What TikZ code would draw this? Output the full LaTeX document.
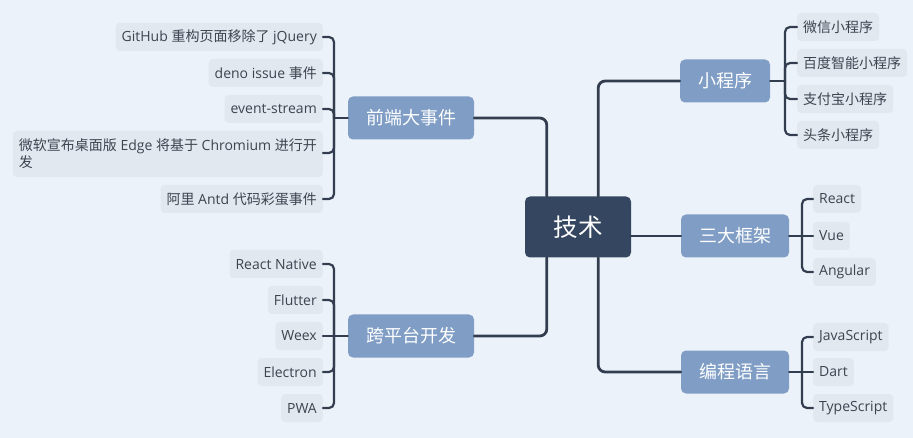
\documentclass[tikz,border=0pt]{standalone}
\usepackage{fontspec}
\setmainfont{Open Sans}
\newfontfamily\cjk{Noto Sans CJK SC}
\usetikzlibrary{positioning}
\definecolor{bgc}{RGB}{236,242,249}
\definecolor{leafc}{RGB}{225,232,240}
\definecolor{branchc}{RGB}{127,157,197}
\definecolor{rootc}{RGB}{52,70,96}
\definecolor{linec}{RGB}{50,62,80}
\definecolor{textc}{RGB}{60,68,80}

\begin{document}
\begin{tikzpicture}[x=1pt,y=-1pt,line cap=round,line join=round,
  leaf/.style={fill=leafc,rounded corners=4pt,minimum height=28pt,inner xsep=6pt,inner ysep=2pt,text=textc,font=\fontsize{14}{17}\selectfont},
  branch/.style={fill=branchc,rounded corners=5pt,minimum height=43pt,inner xsep=18pt,text=white,font=\cjk\fontsize{18}{20}\selectfont},
  root/.style={fill=rootc,rounded corners=5pt,minimum width=106pt,minimum height=61pt,text=white,font=\cjk\fontsize{24.5}{26}\selectfont},
  link/.style={draw=linec,line width=2.8pt,rounded corners=7pt},
  twig/.style={draw=linec,line width=2.2pt,rounded corners=5pt}]
\fill[bgc] (0,0) rectangle (913,438);
\useasboundingbox (0,0) rectangle (913,438);
% root and main branches
\node[root] (tech) at (578,227) {技术};
\node[branch] (fe) at (411,118) {前端大事件};
\node[branch] (mp) at (725,81) {小程序};
\node[branch] (fw) at (735,236) {三大框架};
\node[branch] (lang) at (735,372) {编程语言};
\node[branch] (xp) at (411,336) {跨平台开发};
\draw[link] ([xshift=22pt]tech.north west) |- (fe.east);
\draw[link] ([xshift=-33pt]tech.north east) |- (mp.west);
\draw[link] (tech.east |- fw.west) -- (fw.west);
\draw[link] ([xshift=-33pt]tech.south east) |- (lang.west);
\draw[link] ([xshift=22pt]tech.south west) |- (xp.east);
% front-end events
\node[leaf,anchor=east] (fe1) at (323,37) {GitHub {\cjk 重构页面移除了} jQuery};
\node[leaf,anchor=east] (fe2) at (323,73) {deno issue {\cjk 事件}};
\node[leaf,anchor=east] (fe3) at (323,109) {event-stream};
\node[leaf,anchor=east,align=left,minimum height=46pt] (fe4) at (323,154) {{\cjk 微软宣布桌面版} Edge {\cjk 将基于} Chromium {\cjk 进行开}\\{\cjk 发}};
\node[leaf,anchor=east] (fe5) at (323,199) {{\cjk 阿里} Antd {\cjk 代码彩蛋事件}};
\coordinate (feb) at (334,118);
\foreach \n in {fe1,fe2,fe3,fe5}
  \draw[twig] (\n.east) -| (feb);
\draw[twig] (fe4.east |- 0,153) -| (feb);
\draw[twig] (feb) -- (fe.west);
% mini programs
\node[leaf,anchor=west,font=\cjk\fontsize{14}{17}\selectfont] (mp1) at (797,27) {微信小程序};
\node[leaf,anchor=west,font=\cjk\fontsize{14}{17}\selectfont] (mp2) at (797,63) {百度智能小程序};
\node[leaf,anchor=west,font=\cjk\fontsize{14}{17}\selectfont] (mp3) at (797,99) {支付宝小程序};
\node[leaf,anchor=west,font=\cjk\fontsize{14}{17}\selectfont] (mp4) at (797,135) {头条小程序};
\coordinate (mpb) at (785,81);
\foreach \n in {mp1,mp2,mp3,mp4}
  \draw[twig] (\n.west) -| (mpb);
\draw[twig] (mp.east) -- (mpb);
% frameworks
\node[leaf,anchor=west] (fw1) at (813,199) {React};
\node[leaf,anchor=west] (fw2) at (813,236) {Vue};
\node[leaf,anchor=west] (fw3) at (813,272) {Angular};
\coordinate (fwb) at (802,236);
\foreach \n in {fw1,fw3}
  \draw[twig] (\n.west) -| (fwb);
\draw[twig] (fw.east) -- (fw2.west);
% languages
\node[leaf,anchor=west] (lang1) at (813,337) {JavaScript};
\node[leaf,anchor=west] (lang2) at (813,372) {Dart};
\node[leaf,anchor=west] (lang3) at (813,408) {TypeScript};
\coordinate (langb) at (802,372);
\foreach \n in {lang1,lang3}
  \draw[twig] (\n.west) -| (langb);
\draw[twig] (lang.east) -- (lang2.west);
% cross platform
\node[leaf,anchor=east] (xp1) at (323,264) {React Native};
\node[leaf,anchor=east] (xp2) at (323,300) {Flutter};
\node[leaf,anchor=east] (xp3) at (323,336) {Weex};
\node[leaf,anchor=east] (xp4) at (323,372) {Electron};
\node[leaf,anchor=east] (xp5) at (323,408) {PWA};
\coordinate (xpb) at (334,336);
\foreach \n in {xp1,xp2,xp4,xp5}
  \draw[twig] (\n.east) -| (xpb);
\draw[twig] (xp3.east) -- (xp.west);
\end{tikzpicture}
\end{document}
